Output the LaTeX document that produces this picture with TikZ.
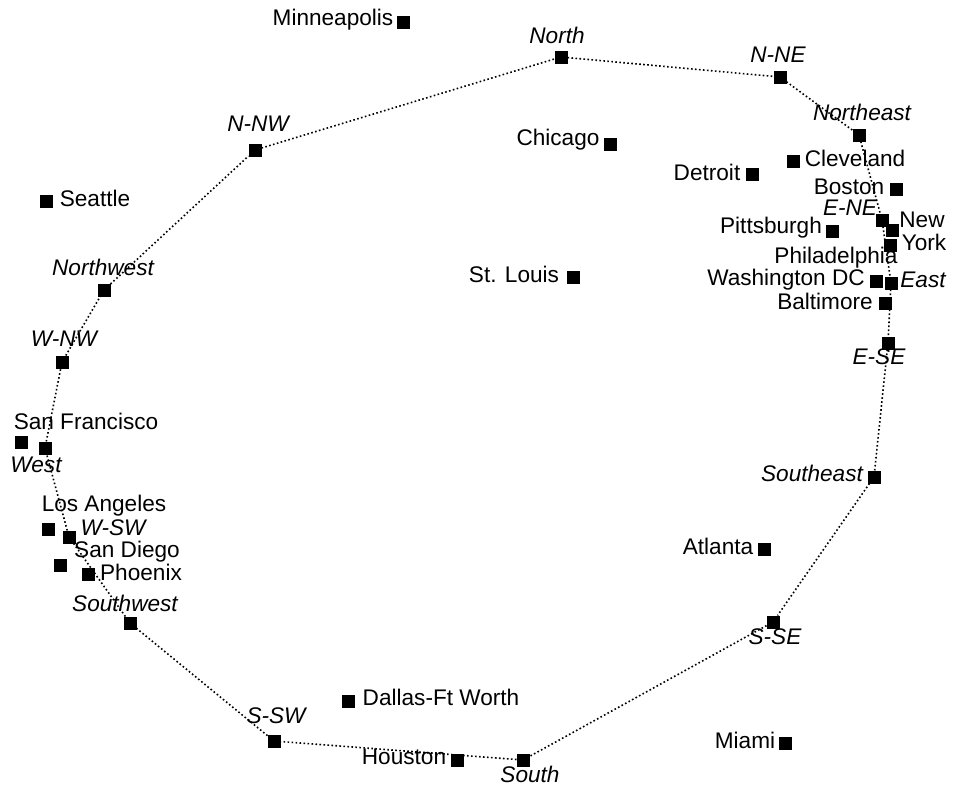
\documentclass[tikz,border=0pt]{standalone}
\usepackage{fontspec}
\setmainfont{Liberation Sans}
\begin{document}
\begin{tikzpicture}[x=1pt,y=-1pt,
  sq/.style={fill=black,draw=none,minimum size=13pt,inner sep=0pt,outer sep=0pt},
  city/.style={inner sep=0pt,font=\fontsize{22.6}{24}\selectfont},
  dirlab/.style={inner sep=0pt,font=\fontsize{22.6}{24}\selectfont\itshape},
  ring/.style={line width=1.6pt,dash pattern=on 1.6pt off 2.4pt}]
\useasboundingbox (0,0) rectangle (953,787);
% direction squares
\node[sq] (N) at (561,57) {};
\node[sq] (NNE) at (780,77) {};
\node[sq] (NE) at (859,135) {};
\node[sq] (ENE) at (882,220) {};
\node[sq] (E) at (891,283) {};
\node[sq] (ESE) at (888,343) {};
\node[sq] (SE) at (874,477) {};
\node[sq] (SSE) at (773,622) {};
\node[sq] (S) at (523,760) {};
\node[sq] (SSW) at (274,741) {};
\node[sq] (SW) at (130,623) {};
\node[sq] (WSW) at (69,537) {};
\node[sq] (W) at (45,448) {};
\node[sq] (WNW) at (62,362) {};
\node[sq] (NW) at (104,290) {};
\node[sq] (NNW) at (255,150) {};
% ring
\draw[ring] (N) -- (NNE) -- (NE) -- (ENE) -- (E) -- (ESE) -- (SE) -- (SSE) -- (S) -- (SSW) -- (SW) -- (WSW) -- (W) -- (WNW) -- (NW) -- (NNW) -- (N);
% city squares
\node[sq] (min) at (403,22) {};
\node[sq] (chi) at (610,144) {};
\node[sq] (sea) at (46,201) {};
\node[sq] (stl) at (573,277) {};
\node[sq] (det) at (752,174) {};
\node[sq] (cle) at (793,161) {};
\node[sq] (bos) at (896,189) {};
\node[sq] (pit) at (832,231) {};
\node[sq] (nyc) at (892,230) {};
\node[sq] (phi) at (890,245) {};
\node[sq] (was) at (876,281) {};
\node[sq] (bal) at (885,303) {};
\node[sq] (sfo) at (21,442) {};
\node[sq] (lax) at (48,529) {};
\node[sq] (san) at (60,565) {};
\node[sq] (phx) at (88,574) {};
\node[sq] (atl) at (764,549) {};
\node[sq] (dfw) at (348,701) {};
\node[sq] (mia) at (785,743) {};
\node[sq] (hou) at (457,760) {};
% direction labels
\node[dirlab] (lN) at (557,35) {North};
\node[dirlab] (lNNE) at (778,55) {N-NE};
\node[dirlab] (lNE) at (862,112) {Northeast};
\node[dirlab] (lENE) at (850,208) {E-NE};
\node[dirlab] (lE) at (923,280) {East};
\node[dirlab] (lESE) at (879,357) {E-SE};
\node[dirlab] (lSE) at (812,473) {Southeast};
\node[dirlab] (lSSE) at (775,637) {S-SE};
\node[dirlab] (lS) at (530,774) {South};
\node[dirlab] (lSSW) at (276,716) {S-SW};
\node[dirlab] (lSW) at (125,603) {Southwest};
\node[dirlab] (lWSW) at (113,528) {W-SW};
\node[dirlab] (lW) at (36,465) {West};
\node[dirlab] (lWNW) at (64,339) {W-NW};
\node[dirlab] (lNW) at (103,267) {Northwest};
\node[dirlab] (lNNW) at (258,124) {N-NW};
% city labels
\node[city] (tmin) at (333,20) {Minneapolis};
\node[city] (tchi) at (558,140) {Chicago};
\node[city] (tsea) at (95,198) {Seattle};
\node[city] (tstl) at (514,274) {St. Louis};
\node[city] (tdet) at (707,172) {Detroit};
\node[city] (tcle) at (855,158) {Cleveland};
\node[city] (tbos) at (849,187) {Boston};
\node[city] (tpit) at (771,228) {Pittsburgh};
\node[city] (tnew) at (922,220) {New};
\node[city] (tyork) at (924,242) {York};
\node[city] (tphi) at (836,258) {Philadelphia};
\node[city] (twas) at (786,280) {Washington DC};
\node[city] (tbal) at (825,301) {Baltimore};
\node[city] (tsfo) at (86,421) {San Francisco};
\node[city] (tlax) at (104,506) {Los Angeles};
\node[city] (tsan) at (127,552) {San Diego};
\node[city] (tphx) at (141,572) {Phoenix};
\node[city] (tatl) at (718,546) {Atlanta};
\node[city] (tdfw) at (441,697) {Dallas-Ft Worth};
\node[city] (tmia) at (745,740) {Miami};
\node[city] (thou) at (404,757) {Houston};
\end{tikzpicture}
\end{document}
